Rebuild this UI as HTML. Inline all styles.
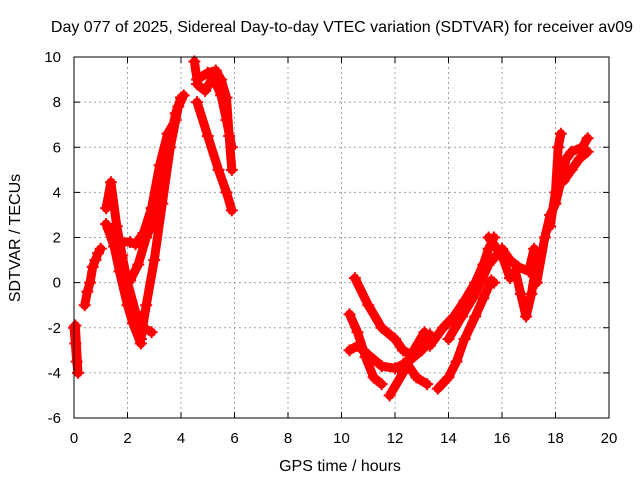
<!DOCTYPE html>
<html><head><meta charset="utf-8"><style>
html,body{margin:0;padding:0;background:#fff}
svg{display:block;font-family:"Liberation Sans",sans-serif}
</style></head><body>
<svg id="c" width="640" height="480">
<text x="342" y="32" font-size="16" text-anchor="middle">Day 077 of 2025, Sidereal Day-to-day VTEC variation (SDTVAR) for receiver av09</text>
<text x="340" y="471" font-size="16" text-anchor="middle">GPS time / hours</text>
<text transform="translate(20,238) rotate(-90)" font-size="16" text-anchor="middle">SDTVAR / TECUs</text>
<g id="grid"></g><g id="ticks"></g><g id="marks"></g>
<rect x="74" y="57" width="535" height="361" fill="none" stroke="#000" stroke-width="1"/>
</svg>
<script>
const xTicks=[0,2,4,6,8,10,12,14,16,18,20];
const yTicks=[-6,-4,-2,0,2,4,6,8,10];
const trackA=[[0,-2],[0.05,-2.7],[0.1,-3.5],[0.15,-4],[0.05,-1.9]];
const trackB=[[0.4,-1],[0.5,-0.4],[0.6,0],[0.7,0.7],[0.8,1],[0.9,1.3],[1.0,1.5]];
const trackC=[[1.2,3.3],[1.38,4.45],[1.6,2.5],[1.8,1.2],[2.0,0],[2.3,-1.3],[2.6,-2.0],[2.9,-2.2]];
const trackD=[[1.2,2.6],[1.5,1.6],[1.7,0.5],[2.0,-1],[2.2,-1.8],[2.5,-2.7]];
const trackE=[[2.5,-2.5],[2.7,-1],[3.0,1],[3.3,3.5],[3.6,6],[3.9,7.8],[4.1,8.3]];
const trackF=[[1.3,2.4],[1.6,1.6],[1.8,0.5],[2.1,0.1],[2.4,0.8],[2.7,2],[3.0,2.8],[3.4,5],[3.8,7.5],[4.0,8.2]];
const trackG=[[1.5,2.0],[1.8,1.8],[2.1,1.8],[2.3,1.7],[2.6,2.2],[2.9,3.3],[3.2,5.2],[3.5,6.6],[3.8,7.2]];
const trackH=[[4.5,9.8],[4.6,9],[5.0,9.3],[5.3,9.4],[5.5,9.0],[5.7,8.2],[5.8,6.5],[5.9,5]];
const trackI=[[4.6,8.8],[4.9,8.5],[5.2,9.1],[5.5,8.3],[5.7,7.2],[5.9,6.0]];
const trackJ=[[4.6,8],[5.0,6.5],[5.4,5],[5.7,4],[5.9,3.2]];
const trackK=[[10.3,-1.4],[10.6,-2.2],[10.9,-3.3],[11.2,-4.2],[11.5,-4.5]];
const trackL=[[10.5,0.2],[11,-1],[11.5,-2],[12,-2.5],[12.3,-3],[12.6,-3.2]];
const trackM=[[10.3,-3],[10.6,-2.8],[11.0,-3.2],[11.5,-3.7],[12,-3.8],[12.5,-3.5],[13,-3],[13.3,-2.3]];
const trackN=[[11.8,-5.0],[12.3,-4],[12.7,-3],[13.1,-2.2]];
const trackO=[[12.4,-3.5],[12.8,-4.2],[13.2,-4.5]];
const trackP=[[13.6,-4.7],[14,-4.2],[14.3,-3.5],[14.6,-2.5],[15,-1.5],[15.3,-0.7],[15.6,0.1],[15.7,0]];
const trackQ=[[13.3,-2.8],[13.8,-2],[14.2,-1.5],[14.6,-0.8],[15,0],[15.3,0.8],[15.5,1.5],[15.7,2]];
const trackR=[[14,-2.5],[14.5,-1.5],[15,-0.5],[15.5,0.8],[16,1.5],[16.3,1],[16.6,0.7],[17,0.5],[17.2,1.5]];
const trackS=[[15.5,2.0],[16.0,1.2],[16.3,0.2],[16.5,0.5],[16.7,-0.5],[16.9,-1.5],[17.1,-0.5],[17.3,1]];
const trackT=[[17.3,0],[17.6,2],[17.8,3],[18.0,3.5],[18.2,4.5],[18.4,5.5],[18.6,5.8],[19.0,6.0],[19.2,6.4]];
const trackU=[[17.8,2.5],[18.0,4],[18.1,6],[18.2,6.6]];
const trackV=[[18.3,4.5],[18.6,5.0],[18.9,5.5],[19.2,5.8]];
const tracks=[trackA,trackB,trackC,trackD,trackE,trackF,trackG,trackH,trackI,trackJ,trackK,trackL,trackM,trackN,trackO,trackP,trackQ,trackR,trackS,trackT,trackU,trackV];
const NS="http://www.w3.org/2000/svg";
const X0=74,X1=609,Y0=418,Y1=57;
function sx(t){return X0+(t-0)/(20-0)*(X1-X0);}
function sy(v){return Y0-(v+6)/(16)*(Y0-Y1);}
function mk(tag,attrs,parent){const e=document.createElementNS(NS,tag);for(const k in attrs)e.setAttribute(k,attrs[k]);parent.appendChild(e);return e;}
const grid=document.getElementById('grid'),ticks=document.getElementById('ticks'),marks=document.getElementById('marks');
xTicks.forEach(t=>{const x=sx(t);
 if(t>0&&t<20){const g=mk('line',{x1:x,x2:x,y1:Y1,y2:Y0,stroke:'#a0a0a0','stroke-dasharray':'2,3'},grid);
 
 }
 mk('line',{x1:x,x2:x,y1:Y0,y2:Y0-6,stroke:'#000'},ticks);
 mk('line',{x1:x,x2:x,y1:Y1,y2:Y1+6,stroke:'#000'},ticks);
 const l=mk('text',{x:x,y:443,'font-size':15,'text-anchor':'middle'},ticks);l.textContent=t;
 
 });
yTicks.forEach(v=>{const y=sy(v);
 if(v>-6&&v<10){const g=mk('line',{x1:X0,x2:X1,y1:y,y2:y,stroke:'#a0a0a0','stroke-dasharray':'2,3'},grid);
 
 }
 mk('line',{x1:X0,x2:X0+6,y1:y,y2:y,stroke:'#000'},ticks);
 mk('line',{x1:X1,x2:X1-6,y1:y,y2:y,stroke:'#000'},ticks);
 const l=mk('text',{x:61,y:y+5,'font-size':15,'text-anchor':'end'},ticks);l.textContent=v;
 
 });
tracks.forEach((tr,i)=>{
 const pts=tr.map(p=>sx(p[0])+','+sy(p[1])).join(' ');
 const pl=mk('polyline',{points:pts,fill:'none',stroke:'#ff0000','stroke-width':9,'stroke-linejoin':'round','stroke-linecap':'round'},marks);
 
 
 tr.forEach(p=>{const x=sx(p[0]),y=sy(p[1]);
  const m=mk('path',{d:`M${x-6},${y}H${x+6}M${x},${y-6}V${y+6}`,stroke:'#ff0000','stroke-width':2},marks);
  
  });
});
</script>
</body></html>
